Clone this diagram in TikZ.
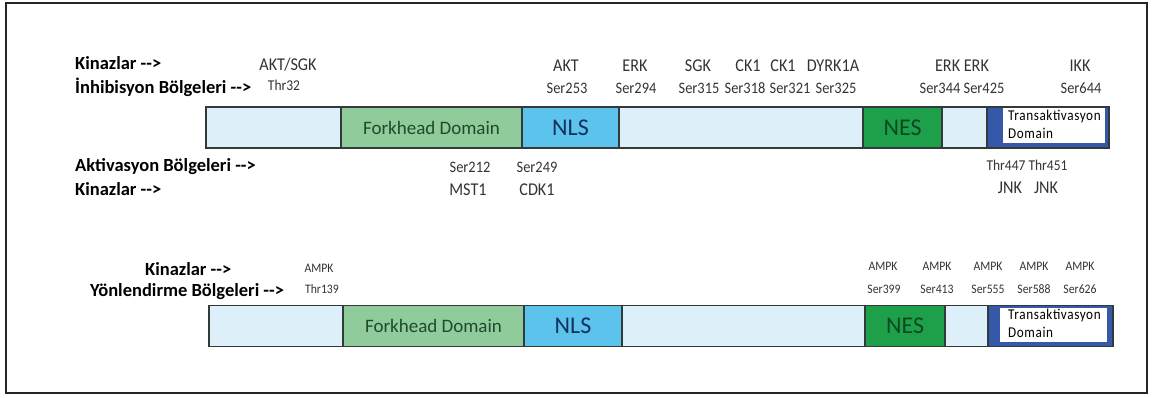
\documentclass[tikz,border=0pt]{standalone}
\usepackage{fontspec}
\setmainfont{Carlito}
\newfontfamily\nf{Carlito}[FakeStretch=0.9]
\newfontfamily\taf{Carlito}[FakeStretch=0.88,LetterSpace=4]
\definecolor{lblue}{HTML}{DDEFF9}
\definecolor{fhgreen}{HTML}{8FCB9B}
\definecolor{nlsblue}{HTML}{5CC3EC}
\definecolor{nesgreen}{HTML}{1EA04B}
\definecolor{tablue}{HTML}{3558A8}
\definecolor{edge}{HTML}{333A3A}
\definecolor{lbl}{HTML}{333333}
\definecolor{fhtext}{HTML}{1F4A2C}
\definecolor{nlstext}{HTML}{13305E}
\definecolor{nestext}{HTML}{0B4A20}
\newcommand{\arr}{-{}-{}>}
\tikzset{
  seg/.style={draw=edge, line width=1.3pt, inner sep=0pt, outer sep=0pt, anchor=west, minimum height=41pt},
  head/.style={font=\bfseries\fontsize{18.5}{18.5}\selectfont, inner sep=0pt, anchor=base west, text=black},
  kin/.style={font=\nf\fontsize{18}{18}\selectfont, inner sep=0pt, anchor=base, text=lbl},
  site/.style={font=\nf\fontsize{16}{16}\selectfont, inner sep=0pt, anchor=base, text=lbl},
  ssite/.style={font=\nf\fontsize{13}{13}\selectfont, inner sep=0pt, anchor=base, text=lbl},
  msite/.style={font=\nf\fontsize{15}{15}\selectfont, inner sep=0pt, anchor=base, text=lbl},
  dom/.style={font=\fontsize{19}{19}\selectfont, text=fhtext},
  big/.style={font=\fontsize{24}{24}\selectfont},
  tatext/.style={font=\taf\fontsize{15}{18}\selectfont, inner sep=0pt, anchor=north west, align=left, text=black}
}
\begin{document}
\begin{tikzpicture}[x=1pt,y=-1pt]
\useasboundingbox (0,0) rectangle (1152,397);
\draw[line width=1.1pt, draw=black!85] (6,3) rectangle (1147,393);

% ---------- bar 1 ----------
\node[seg, fill=lblue, minimum width=135pt] (a1) at (206,127.5) {};
\node[seg, fill=fhgreen, minimum width=181pt, dom] (a2) at (341,127.5) {Forkhead Domain};
\node[seg, fill=nlsblue, minimum width=97pt, big, text=nlstext] (a3) at (522,127.5) {NLS};
\node[seg, fill=lblue, minimum width=244pt] (a4) at (619,127.5) {};
\node[seg, fill=nesgreen, minimum width=79pt, big, text=nestext] (a5) at (863,127.5) {NES};
\node[seg, fill=lblue, minimum width=45pt] (a6) at (942,127.5) {};
\node[seg, fill=tablue, minimum width=122pt] (a7) at (987,127.5) {};
\fill[white] (1003,108) rectangle (1105,143);
\node[tatext] (a8) at (1008,110) {Transaktivasyon\\Domain};

\node[head] (h1) at (75,69) {Kinazlar \arr};
\node[head] (h2) at (75,93) {İnhibisyon Bölgeleri \arr};
\node[head] (h3) at (75,171) {Aktivasyon Bölgeleri \arr};
\node[head] (h4) at (75,195) {Kinazlar \arr};

\node[kin] (k1) at (288,70) {AKT/SGK};
\node[msite] (t1) at (284,90) {Thr32};
\node[kin] (k2) at (566,71) {AKT};
\node[site] (t2) at (567,93) {Ser253};
\node[kin] (k3) at (635,71) {ERK};
\node[site] (t3) at (636,93) {Ser294};
\node[kin] (k4) at (698,71) {SGK};
\node[site] (t4) at (699,93) {Ser315};
\node[kin] (k5) at (748,71) {CK1};
\node[site] (t5) at (745,93) {Ser318};
\node[kin] (k6) at (783,71) {CK1};
\node[site] (t6) at (790,93) {Ser321};
\node[kin] (k7) at (833,71) {DYRK1A};
\node[site] (t7) at (836,93) {Ser325};
\node[kin] (k8) at (962,71) {ERK ERK};
\node[site] (t8) at (962,93) {Ser344 Ser425};
\node[kin] (k9) at (1080,71) {IKK};
\node[site] (t9) at (1081,93) {Ser644};

\node[site] (u1) at (470,172) {Ser212};
\node[kin] (m1) at (468,195) {MST1};
\node[site] (u2) at (537,172) {Ser249};
\node[kin] (m2) at (537,195) {CDK1};
\node[msite] (u3) at (1027,170) {Thr447 Thr451};
\node[kin] (m3) at (1028,193) {JNK\hspace{12pt}JNK};

% ---------- bar 2 ----------
\node[seg, fill=lblue, minimum width=134pt] (b1) at (209,326) {};
\node[seg, fill=fhgreen, minimum width=181pt, dom] (b2) at (343,326) {Forkhead Domain};
\node[seg, fill=nlsblue, minimum width=98pt, big, text=nlstext] (b3) at (524,326) {NLS};
\node[seg, fill=lblue, minimum width=243pt] (b4) at (622,326) {};
\node[seg, fill=nesgreen, minimum width=80pt, big, text=nestext] (b5) at (865,326) {NES};
\node[seg, fill=lblue, minimum width=43pt] (b6) at (945,326) {};
\node[seg, fill=tablue, minimum width=125pt] (b7) at (988,326) {};
\fill[white] (1000,308) rectangle (1107,342);
\node[tatext] (b8) at (1008,309) {Transaktivasyon\\Domain};

\node[head] (g1) at (145,275) {Kinazlar \arr};
\node[head] (g2) at (90,296) {Yönlendirme Bölgeleri \arr};

\node[ssite] (p1) at (319,272) {AMPK};
\node[ssite] (q1) at (322,293) {Thr139};
\node[ssite] (p2) at (883,270) {AMPK};
\node[ssite] (q2) at (884,293) {Ser399};
\node[ssite] (p3) at (937,270) {AMPK};
\node[ssite] (q3) at (937,293) {Ser413};
\node[ssite] (p4) at (988,270) {AMPK};
\node[ssite] (q4) at (988,293) {Ser555};
\node[ssite] (p5) at (1034,270) {AMPK};
\node[ssite] (q5) at (1034,293) {Ser588};
\node[ssite] (p6) at (1080,270) {AMPK};
\node[ssite] (q6) at (1080,293) {Ser626};
\end{tikzpicture}
\end{document}
